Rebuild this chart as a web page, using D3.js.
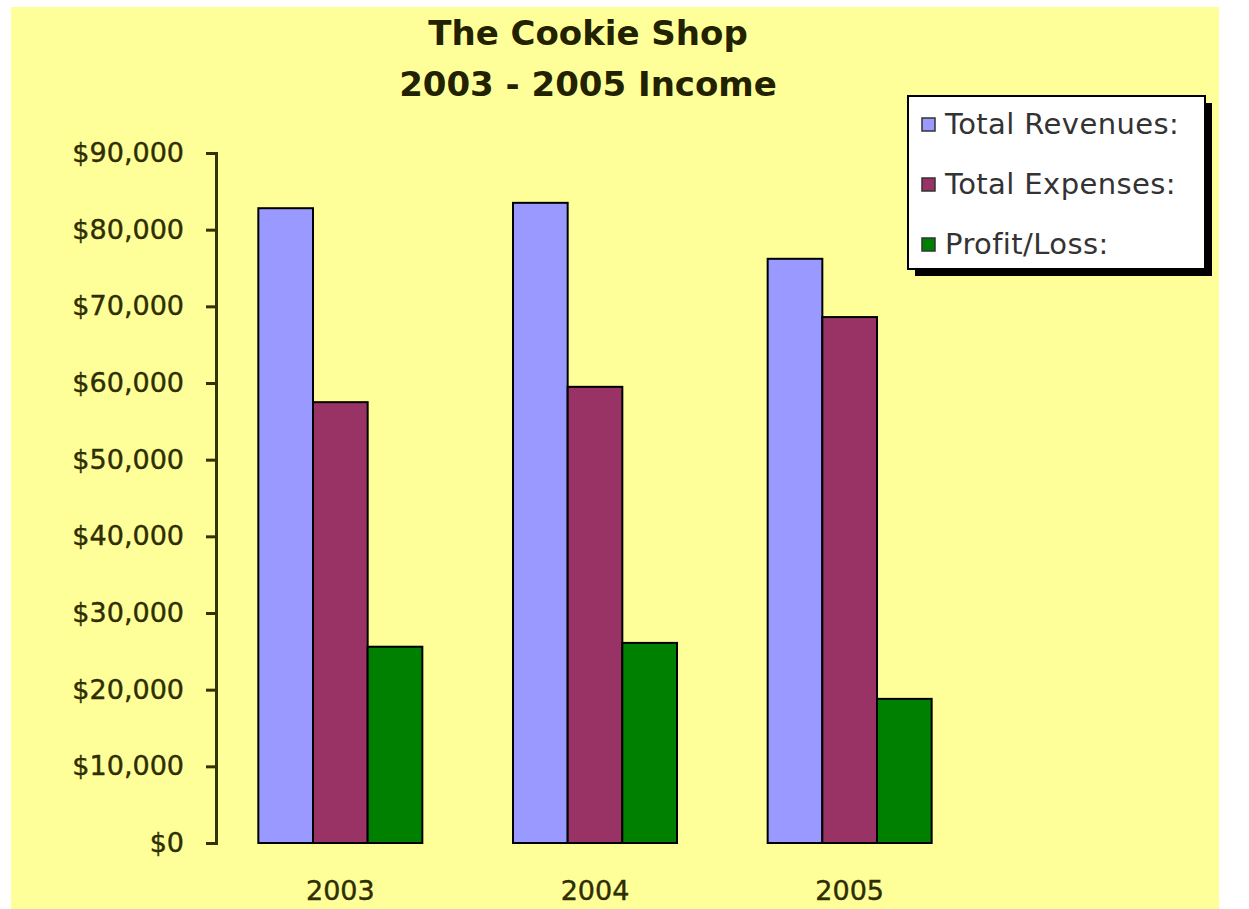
<!DOCTYPE html>
<html>
<head>
<meta charset="utf-8">
<script src="https://cdn.jsdelivr.net/npm/d3@7"></script>
<style>
  html, body { margin: 0; padding: 0; background: #ffffff; }
  svg { display: block; }
</style>
</head>
<body>
<svg id="chart" width="1249" height="909"></svg>
<script>
// ---- data ----
const years = ["2003", "2004", "2005"];
const seriesNames = ["Total Revenues:", "Total Expenses:", "Profit/Loss:"];
const revenues = [82800, 83500, 76200];
const expenses = [57500, 59500, 68600];
const profit = [25600, 26100, 18800];
const yTicks = [0, 10000, 20000, 30000, 40000, 50000, 60000, 70000, 80000, 90000];
const titleLines = ["The Cookie Shop", "2003 - 2005 Income"];
const seriesColors = ["#9999ff", "#993366", "#008000"];

const seriesValues = [revenues, expenses, profit];
const rows = years.map((y, i) => ({
  year: y,
  values: seriesNames.map((s, j) => ({ key: s, idx: j, value: seriesValues[j][i] }))
}));

const svg = d3.select("#chart");
const W = 1249, H = 909;

// background
svg.append("rect").attr("x", 11).attr("y", 7).attr("width", 1208).attr("height", H - 7)
  .attr("fill", "#ffff99");

// scales
const y = d3.scaleLinear().domain([0, 90000]).range([843, 153]);
const x0 = d3.scaleBand().domain(years).range([213, 977]).paddingInner(0.356).paddingOuter(0.178);
const x1 = d3.scaleBand().domain(seriesNames).range([0, x0.bandwidth()]).padding(0);
const color = d3.scaleOrdinal().domain(seriesNames).range(seriesColors);

// title
const title = svg.append("text")
  .attr("text-anchor", "middle")
  .attr("font-family", "DejaVu Sans, Verdana, sans-serif")
  .attr("font-weight", "bold")
  .attr("font-size", 34)
  .attr("fill", "#222200");
titleLines.forEach((t, i) => {
  title.append("tspan").attr("x", 588).attr("y", 45 + i * 51).text(t);
});

// bars
const groups = svg.append("g").selectAll("g").data(rows).join("g")
  .attr("transform", d => `translate(${x0(d.year)},0)`);
groups.selectAll("rect").data(d => d.values).join("rect")
  .attr("x", d => x1(d.key))
  .attr("y", d => y(d.value))
  .attr("width", x1.bandwidth())
  .attr("height", d => y(0) - y(d.value))
  .attr("fill", d => color(d.key))
  .attr("stroke", "#000000")
  .attr("stroke-width", 2);

// y axis
const yAxis = d3.axisLeft(y).tickValues(yTicks).tickSize(10).tickPadding(22)
  .tickFormat(d => "$" + d3.format(",")(d));
const yg = svg.append("g").attr("transform", "translate(216,0)").call(yAxis);
yg.select(".domain").attr("stroke", "#333300").attr("stroke-width", 3);
yg.selectAll(".tick line").attr("stroke", "#333300").attr("stroke-width", 3);
yg.selectAll(".tick text")
  .attr("font-family", "DejaVu Sans, Verdana, sans-serif")
  .attr("font-size", 27)
  .attr("fill", "#2e2e00")
  .attr("stroke", "#2e2e00").attr("stroke-width", 0.4);

// x axis labels (no line)
const xAxis = d3.axisBottom(x0).tickSize(0).tickPadding(0);
const xg = svg.append("g").attr("transform", "translate(0,881)").call(xAxis);
xg.select(".domain").remove();
xg.selectAll(".tick text")
  .attr("dy", "0.71em")
  .attr("font-family", "DejaVu Sans, Verdana, sans-serif")
  .attr("font-size", 27)
  .attr("fill", "#2e2e00")
  .attr("stroke", "#2e2e00").attr("stroke-width", 0.4);

// legend
const lg = svg.append("g").attr("transform", "translate(908,96)");
lg.append("rect").attr("x", 7).attr("y", 7).attr("width", 297).attr("height", 173).attr("fill", "#000000");
lg.append("rect").attr("x", 0).attr("y", 0).attr("width", 297).attr("height", 173)
  .attr("fill", "#ffffff").attr("stroke", "#000000").attr("stroke-width", 2);
const items = lg.selectAll("g.item").data(seriesNames).join("g").attr("class", "item")
  .attr("transform", (d, i) => `translate(0,${28 + i * 60})`);
items.append("rect").attr("x", 14).attr("y", -6).attr("width", 13).attr("height", 13)
  .attr("fill", d => color(d)).attr("stroke", "#333333").attr("stroke-width", 1.5);
items.append("text").attr("x", 37).attr("y", 0).attr("dy", "0.36em")
  .attr("font-family", "DejaVu Sans, Verdana, sans-serif")
  .attr("font-size", 29)
  .attr("letter-spacing", 0.4)
  .attr("fill", "#333333")
  .text(d => d);
</script>
</body>
</html>
